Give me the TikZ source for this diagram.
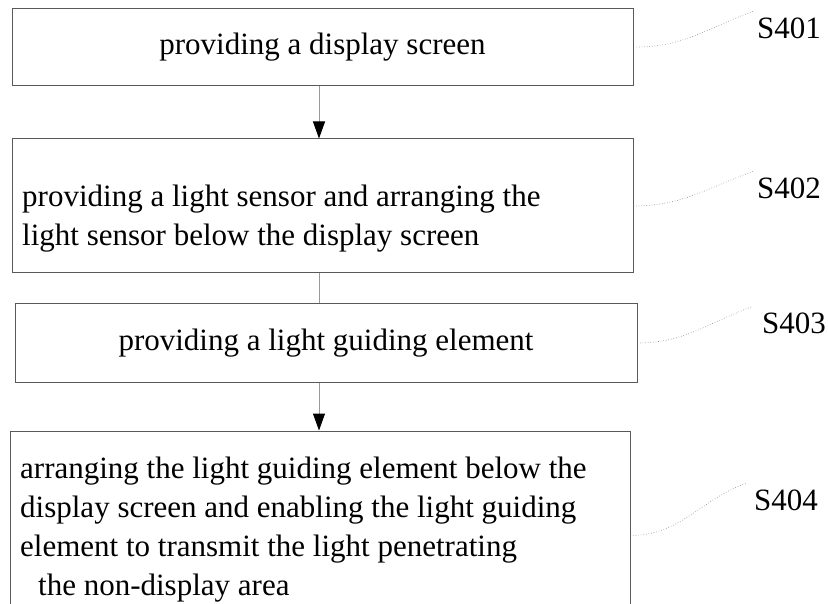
\documentclass[tikz,border=0pt]{standalone}
\usepackage{fontspec}
\setmainfont{Liberation Serif}
\usetikzlibrary{positioning, arrows.meta}

\begin{document}
\begin{tikzpicture}[x=1pt, y=-1pt,
      stepbox/.style={draw=black!65, line width=1pt, inner sep=0pt},
      steptext/.style={inner sep=0pt, font=\fontsize{31}{39}\selectfont},
      tag/.style={inner sep=0pt, anchor=west, font=\fontsize{31}{37}\selectfont},
      flow/.style={draw=black!40, line width=1pt, -{Triangle[length=17pt, width=12pt, black]}},
      lead/.style={draw=black!50, line width=0.6pt, dotted}]

      \useasboundingbox (0,0) rectangle (828,604);
      \clip (0,0) rectangle (828,604);

      % step boxes
      \node[stepbox, minimum width=621pt, minimum height=77pt] (s1) at (322.5,47) {};
      \node[stepbox, minimum width=621pt, minimum height=134pt] (s2) at (322.5,206) {};
      \node[stepbox, minimum width=622pt, minimum height=78pt] (s3) at (326,343) {};
      \node[stepbox, minimum width=620pt, minimum height=209pt] (s4) at (320,535.5) {};

      % step texts
      \node[steptext] (t1) at (s1.center) {providing a display screen};
      \node[steptext, anchor=west, align=left] (t2) at (22,218.5)
        {providing a light sensor and arranging the\\ light sensor below the display screen};
      \node[steptext] (t3) at (s3.center) {providing a light guiding element};
      \node[steptext, anchor=west, align=left] (t4) at (20,529.5)
        {arranging the light guiding element below the\\ display screen and enabling the light guiding\\
         element to transmit the light penetrating\\ \hspace*{18pt}the non-display area};

      % labels
      \node[tag] (l1) at (757,28) {S401};
      \node[tag] (l2) at (757,188) {S402};
      \node[tag] (l3) at (762,323) {S403};
      \node[tag] (l4) at (754,500) {S404};

      \coordinate (mid) at (319,0);
      \draw[flow] (s1.south -| mid) -- (s2.north -| mid);
      \draw[draw=black!40, line width=1pt] (s2.south -| mid) -- (s3.north -| mid);
      \draw[flow] (s3.south -| mid) -- (s4.north -| mid);

      \draw[lead] ([xshift=3pt]s1.east) to[out=0, in=200] ([shift={(-4,-6)}]l1.north west);
      \draw[lead] (s2.east) to[out=0, in=200] ([shift={(-4,-6)}]l2.north west);
      \draw[lead] (s3.east) to[out=0, in=200] ([shift={(-9,-6)}]l3.north west);
      \draw[lead] (s4.east) to[out=0, in=200] ([shift={(-8,-6)}]l4.north west);
\end{tikzpicture}
\end{document}
